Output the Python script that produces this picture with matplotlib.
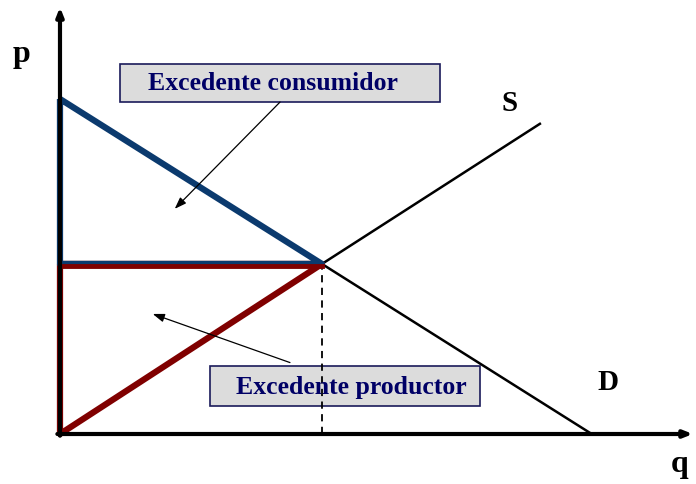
import matplotlib.pyplot as plt
from matplotlib.patches import Rectangle

# Market model (arbitrary units)
eq_q, eq_p = 5.0, 5.0
demand_q = [0.0, eq_q, 10.15]
demand_p = [9.85, eq_p, 0.0]
supply_q = [0.0, eq_q, 9.16]
supply_p = [0.0, eq_p, 9.12]

# Surplus triangles
cs_q = [0.0, eq_q, 0.0, 0.0]
cs_p = [demand_p[0], eq_p, eq_p, demand_p[0]]
ps_q = [0.0, eq_q, 0.0, 0.0]
ps_p = [eq_p, eq_p, 0.0, eq_p]

blue = '#0b3a6e'
red = '#800000'
navy = '#000066'
box_fill = '#dcdcdc'

fig = plt.figure(figsize=(6.96, 4.85), dpi=100)
ax = fig.add_axes([0, 0, 1, 1])
ax.set_xlim(-1.145, 12.14)
ax.set_ylim(-1.47, 12.79)
ax.axis('off')

serif = ['Liberation Serif', 'DejaVu Serif']

# axes with arrows
ax.annotate('', xy=(0, 12.55), xytext=(0, -0.05),
            arrowprops=dict(arrowstyle='-|>,head_length=0.5,head_width=0.2', lw=3, color='black',
                            shrinkA=0, shrinkB=0))
ax.annotate('', xy=(12.08, 0), xytext=(-0.05, 0),
            arrowprops=dict(arrowstyle='-|>,head_length=0.5,head_width=0.2', lw=3, color='black',
                            shrinkA=0, shrinkB=0))

# supply and demand beyond equilibrium
ax.plot(supply_q[1:], supply_p[1:], color='black', lw=1.8)
ax.plot(demand_q[1:], demand_p[1:], color='black', lw=1.8)
ax.plot([eq_q, eq_q], [0, eq_p], color='black', lw=1.3, ls=(0, (4, 3)))

# surplus triangles
ax.plot(ps_q, ps_p, color=red, lw=4.5, solid_joinstyle='round', solid_capstyle='butt')
ax.plot(cs_q, cs_p, color=blue, lw=4.5, solid_joinstyle='round', solid_capstyle='butt')
ax.plot([0, eq_q], [eq_p - 0.07, eq_p - 0.07], color=red, lw=3.5)

# letters
ax.text(-0.73, 11.18, 'p', fontsize=23, fontweight='bold', family=serif, ha='center', va='center')
ax.text(8.59, 9.76, 'S', fontsize=21, fontweight='bold', family=serif, ha='center', va='center')
ax.text(10.46, 1.53, 'D', fontsize=21, fontweight='bold', family=serif, ha='center', va='center')
ax.text(11.83, -0.88, 'q', fontsize=23, fontweight='bold', family=serif, ha='center', va='center')

# label boxes
ax.add_patch(Rectangle((1.145, 9.76), 6.105, 1.12, facecolor=box_fill, edgecolor='#1a1a5a', lw=1.2))
ax.text(4.07, 10.33, 'Excedente consumidor', fontsize=18.5, fontweight='bold', family=serif,
        color=navy, ha='center', va='center')
ax.add_patch(Rectangle((2.86, 0.82), 5.16, 1.18, facecolor=box_fill, edgecolor='#1a1a5a', lw=1.2))
ax.text(5.56, 1.41, 'Excedente productor', fontsize=18.5, fontweight='bold', family=serif,
        color=navy, ha='center', va='center')

# pointers
ax.annotate('', xy=(2.19, 6.62), xytext=(4.20, 9.76),
            arrowprops=dict(arrowstyle='-|>,head_length=0.7,head_width=0.25', lw=0.9, color='black',
                            shrinkA=0, shrinkB=0))
ax.annotate('', xy=(1.77, 3.53), xytext=(4.39, 2.1),
            arrowprops=dict(arrowstyle='-|>,head_length=0.7,head_width=0.25', lw=0.9, color='black',
                            shrinkA=0, shrinkB=0))

fig.savefig('out.png', dpi=100)
